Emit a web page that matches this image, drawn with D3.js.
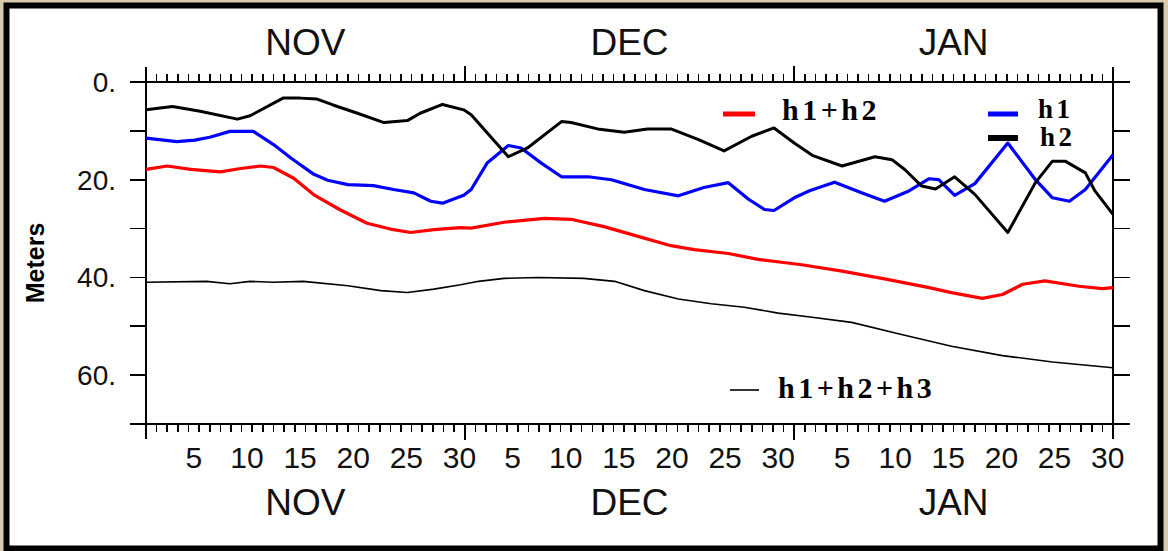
<!DOCTYPE html>
<html>
<head>
<meta charset="utf-8">
<script src="https://cdn.jsdelivr.net/npm/d3@7"></script>
<style>
  body { margin: 0; background: #d8cbad; }
  svg { display: block; }
</style>
</head>
<body>
<div id="chart"></div>
<script>
//--------DATA-------------

// months shown on the axis and where each one starts (day offset from Nov 1)
var monthNames = ["NOV", "DEC", "JAN"];
var monthStarts = [0, 30, 61];
var monthEnds = [30, 61, 91];
var dayLabels = [5, 10, 15, 20, 25, 30];
var yTickLabels = [0, 20, 40, 60];

// h2 (black, thick)
var h2Days = [0, 2.5, 5.1, 8.6, 9.8, 12.9, 14.5, 16.1, 17.6, 19.9, 22.4, 24.6, 25.8, 27.9, 29.9, 30.6, 34.1, 35.9, 39.1, 40,
  42.5, 45, 47.2, 49.4, 52, 54.4, 57, 59.1, 61, 62.7, 65.5, 68.6, 70.2, 71.4, 73, 74.3, 76.1, 78, 81.1, 83.7,
  85.3, 86.5, 88.4, 89.3, 91];
var h2Vals = [5.7, 5.0, 6.0, 7.6, 6.9, 3.3, 3.3, 3.5, 4.7, 6.4, 8.3, 7.9, 6.4, 4.6, 5.7, 6.7, 15.3, 13.5, 8.1, 8.3,
  9.6, 10.3, 9.6, 9.6, 11.8, 14.1, 11.1, 9.4, 12.5, 15.0, 17.2, 15.3, 15.9, 17.9, 21.3, 21.9, 19.4, 23.0, 30.8, 20.6,
  16.2, 16.2, 18.6, 22.3, 27.1];

// h1 (blue)
var h1Days = [0, 2.9, 4.6, 6, 7.9, 10.1, 12, 13.6, 15.8, 17.1, 19, 21.4, 23.3, 25.2, 26.8, 27.9, 29.9, 30.6, 32.1, 34.1,
  35.3, 37.2, 39.1, 41.6, 43.8, 46.9, 50.1, 52.5, 54.8, 56.7, 58.2, 59.1, 61, 62.5, 64.8, 67.4, 69.5, 71.8, 73.7, 74.6,
  76.1, 78, 81.1, 83.7, 85.3, 86.9, 88.4, 91];
var h1Vals = [11.5, 12.2, 11.9, 11.3, 10.1, 10.1, 12.8, 15.5, 18.9, 20.1, 21.0, 21.2, 22.0, 22.7, 24.4, 24.8, 23.2, 22.0, 16.6, 13.0,
  13.5, 16.6, 19.4, 19.4, 20.0, 22.0, 23.3, 21.6, 20.6, 24.0, 26.1, 26.3, 23.7, 22.2, 20.5, 22.7, 24.4, 22.3, 19.8, 20.0,
  23.2, 20.8, 12.5, 20.0, 23.7, 24.4, 22.0, 14.9];

// h1+h2 (red)
var h12Days = [0, 2, 4.2, 7, 8.9, 10.8, 12, 13.9, 15.8, 18.3, 20.8, 23, 24.9, 27.1, 29.6, 30.6, 33.7, 37.5, 40, 43.1,
  46.3, 49.4, 51.6, 54.8, 57.6, 59.8, 61.7, 65.5, 69.5, 73.7, 75.8, 78.7, 80.6, 82.5, 84.6, 87.8, 90, 91];
var h12Vals = [17.9, 17.2, 17.9, 18.4, 17.7, 17.2, 17.5, 19.7, 23.1, 26.2, 28.9, 30.1, 30.8, 30.2, 29.8, 29.9, 28.7, 27.9, 28.1, 29.6,
  31.6, 33.5, 34.3, 35.1, 36.3, 36.9, 37.4, 38.7, 40.3, 42.1, 43.1, 44.3, 43.5, 41.4, 40.7, 41.8, 42.3, 42.1];

// h1+h2+h3 (black, thin)
var h123Days = [0, 5.7, 7.9, 9.8, 12, 14.8, 19, 22.1, 24.6, 27.1, 29.6, 31.3, 33.7, 36.9, 41.2, 44.1, 46.9, 50.1, 53.2, 56.3,
  59.5, 62.5, 66.4, 71.1, 75.8, 80.6, 85.3, 91];
var h123Vals = [41.0, 40.8, 41.3, 40.8, 41.0, 40.8, 41.7, 42.7, 43.1, 42.4, 41.5, 40.8, 40.2, 40.0, 40.2, 40.8, 42.7, 44.4, 45.4, 46.1,
  47.3, 48.1, 49.2, 51.7, 54.1, 56.0, 57.3, 58.5];

//--------CHART-------------

var svgWidth = 1168;
var svgHeight = 551;

// plot frame
var plot = { left: 146, right: 1113, top: 82, bottom: 424 };

var svg = d3.select("#chart")
  .append("svg")
  .attr("width", svgWidth)
  .attr("height", svgHeight);

// white panel with the heavy black border
svg.append("rect")
  .attr("x", 6.5)
  .attr("y", 5.5)
  .attr("width", 1154)
  .attr("height", 543)
  .attr("fill", "white")
  .attr("stroke", "black")
  .attr("stroke-width", 6);

var xScale = d3.scaleLinear().domain([0, 91]).range([plot.left, plot.right]);
var yScale = d3.scaleLinear().domain([0, 70]).range([plot.top, plot.bottom]);

var axisG = svg.append("g")
  .attr("stroke", "black")
  .attr("stroke-width", 1.6)
  .attr("shape-rendering", "crispEdges");

// frame lines, each running past the corners
[plot.top, plot.bottom].forEach(function(y) {
  axisG.append("line").attr("x1", plot.left - 16).attr("x2", plot.right + 17).attr("y1", y).attr("y2", y);
});
[plot.left, plot.right].forEach(function(x) {
  axisG.append("line").attr("x1", x).attr("x2", x).attr("y1", plot.top - 15).attr("y2", plot.bottom + 15);
});

// daily ticks on top and bottom, long ones at month boundaries
var dayTicks = d3.range(1, 91);
axisG.selectAll(".xtick")
  .data(dayTicks)
  .enter()
  .append("g")
  .each(function(d) {
    var len = monthStarts.indexOf(d) >= 0 ? 16 : 8;
    var g = d3.select(this);
    g.append("line").attr("x1", xScale(d)).attr("x2", xScale(d))
      .attr("y1", plot.bottom).attr("y2", plot.bottom + len);
    g.append("line").attr("x1", xScale(d)).attr("x2", xScale(d))
      .attr("y1", plot.top).attr("y2", plot.top - len);
  });

// y ticks every 10 m, both sides
d3.range(10, 70, 10).forEach(function(v) {
  axisG.append("line").attr("x1", plot.left - 16).attr("x2", plot.left)
    .attr("y1", yScale(v)).attr("y2", yScale(v));
  axisG.append("line").attr("x1", plot.right).attr("x2", plot.right + 17)
    .attr("y1", yScale(v)).attr("y2", yScale(v));
});

var labelFont = "'Liberation Sans', Arial, sans-serif";

// y tick labels
svg.selectAll(".ylabel")
  .data(yTickLabels)
  .enter()
  .append("text")
  .attr("x", 116)
  .attr("y", d => yScale(d) + 10)
  .attr("text-anchor", "end")
  .attr("font-family", labelFont)
  .attr("font-size", 28)
  .attr("fill", "#111")
  .text(d => d + ".");

// day labels below the axis, centred on the day
monthStarts.forEach(function(start) {
  svg.selectAll(null)
    .data(dayLabels)
    .enter()
    .append("text")
    .attr("x", d => xScale(start + d - 0.5))
    .attr("y", 468)
    .attr("text-anchor", "middle")
    .attr("font-family", labelFont)
    .attr("font-size", 30)
    .attr("fill", "#111")
    .text(d => d);
});

// month names, top and bottom
[55, 515].forEach(function(y) {
  svg.selectAll(null)
    .data(monthNames)
    .enter()
    .append("text")
    .attr("x", (d, i) => xScale((monthStarts[i] + monthEnds[i]) / 2))
    .attr("y", y)
    .attr("text-anchor", "middle")
    .attr("font-family", labelFont)
    .attr("font-size", 37)
    .attr("fill", "#111")
    .text(d => d);
});

// y axis title
svg.append("text")
  .attr("transform", "translate(44, 263) rotate(-90)")
  .attr("text-anchor", "middle")
  .attr("font-family", labelFont)
  .attr("font-weight", "bold")
  .attr("font-size", 25)
  .text("Meters");

// series lines
var series = [
  { days: h123Days, vals: h123Vals, color: "black", width: 1.6 },
  { days: h12Days, vals: h12Vals, color: "#ff0000", width: 3.2 },
  { days: h1Days, vals: h1Vals, color: "#0000ff", width: 3.2 },
  { days: h2Days, vals: h2Vals, color: "black", width: 3 }
];

var line = d3.line()
  .x(d => xScale(d[0]))
  .y(d => yScale(d[1]));

series.forEach(function(s) {
  svg.append("path")
    .datum(d3.zip(s.days, s.vals))
    .attr("d", line)
    .attr("fill", "none")
    .attr("stroke", s.color)
    .attr("stroke-width", s.width)
    .attr("stroke-linejoin", "round");
});

// legend
var legendFont = "'Liberation Serif', 'Times New Roman', serif";
var legend = [
  { x1: 723, x2: 755, y: 114, tx: 782, ty: 120, size: 30, color: "#ff0000", width: 5, label: "h1+h2" },
  { x1: 988, x2: 1018, y: 114, tx: 1038, ty: 118, size: 27, color: "#0000ff", width: 5, label: "h1" },
  { x1: 988, x2: 1018, y: 138, tx: 1040, ty: 146, size: 27, color: "black", width: 6, label: "h2" },
  { x1: 730, x2: 759, y: 390, tx: 778, ty: 398, size: 30, color: "black", width: 1.6, label: "h1+h2+h3" }
];

legend.forEach(function(l) {
  svg.append("line")
    .attr("x1", l.x1).attr("x2", l.x2)
    .attr("y1", l.y).attr("y2", l.y)
    .attr("stroke", l.color)
    .attr("stroke-width", l.width);
  svg.append("text")
    .attr("x", l.tx)
    .attr("y", l.ty)
    .attr("font-family", legendFont)
    .attr("font-weight", "bold")
    .attr("font-size", l.size)
    .attr("letter-spacing", 3.5)
    .text(l.label);
});
</script>
</body>
</html>
